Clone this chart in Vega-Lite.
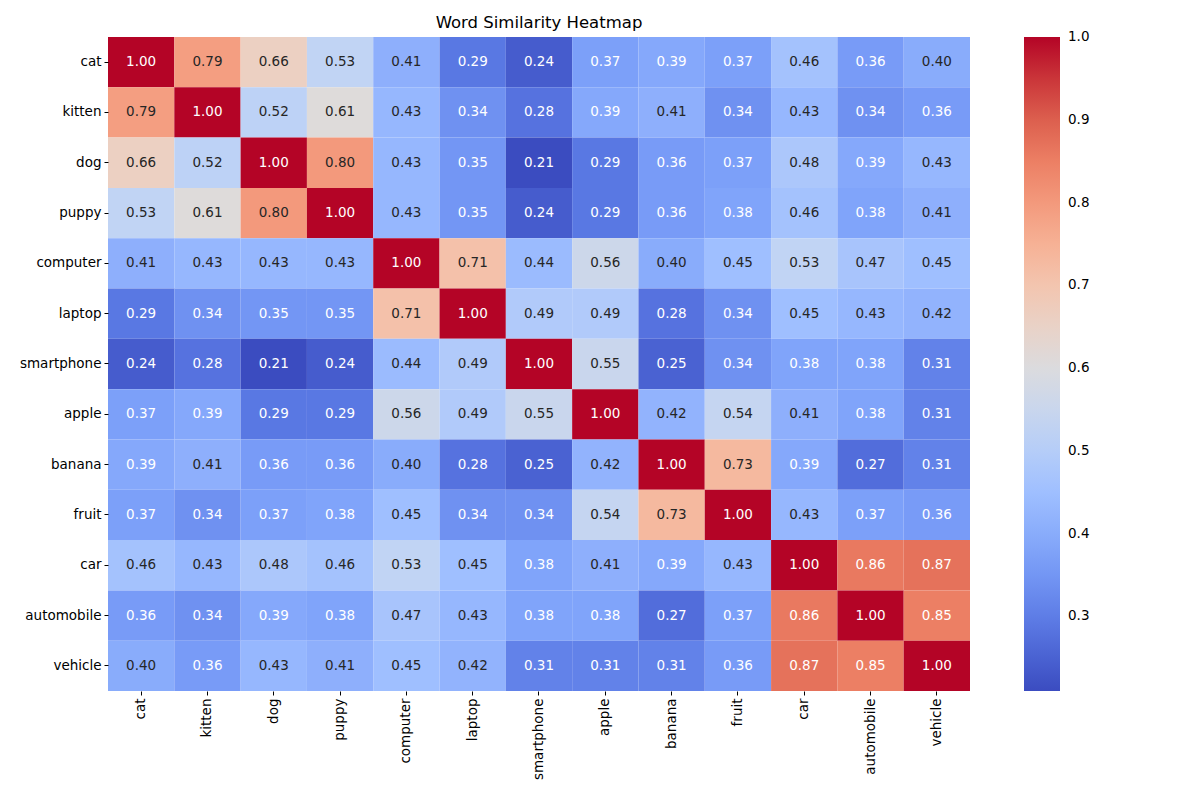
{
"$schema":"https://vega.github.io/schema/vega-lite/v6.json",
"width":862,"height":654,
"autosize":{"type":"none"},
"padding":{"left":108,"top":37,"right":230,"bottom":109},
"background":"white",
"title":{"text":"Word Similarity Heatmap","fontSize":16.5,"fontWeight":"normal","font":"DejaVu Sans","color":"black","offset":6,"anchor":"middle"},
"config":{"view":{"stroke":null},"font":"DejaVu Sans"},
"data":{"values":[
{"r":"cat","c":"cat","v":1.00},{"r":"cat","c":"kitten","v":0.79},{"r":"cat","c":"dog","v":0.66},{"r":"cat","c":"puppy","v":0.53},{"r":"cat","c":"computer","v":0.41},{"r":"cat","c":"laptop","v":0.29},{"r":"cat","c":"smartphone","v":0.24},{"r":"cat","c":"apple","v":0.37},{"r":"cat","c":"banana","v":0.39},{"r":"cat","c":"fruit","v":0.37},{"r":"cat","c":"car","v":0.46},{"r":"cat","c":"automobile","v":0.36},{"r":"cat","c":"vehicle","v":0.40},
{"r":"kitten","c":"cat","v":0.79},{"r":"kitten","c":"kitten","v":1.00},{"r":"kitten","c":"dog","v":0.52},{"r":"kitten","c":"puppy","v":0.61},{"r":"kitten","c":"computer","v":0.43},{"r":"kitten","c":"laptop","v":0.34},{"r":"kitten","c":"smartphone","v":0.28},{"r":"kitten","c":"apple","v":0.39},{"r":"kitten","c":"banana","v":0.41},{"r":"kitten","c":"fruit","v":0.34},{"r":"kitten","c":"car","v":0.43},{"r":"kitten","c":"automobile","v":0.34},{"r":"kitten","c":"vehicle","v":0.36},
{"r":"dog","c":"cat","v":0.66},{"r":"dog","c":"kitten","v":0.52},{"r":"dog","c":"dog","v":1.00},{"r":"dog","c":"puppy","v":0.80},{"r":"dog","c":"computer","v":0.43},{"r":"dog","c":"laptop","v":0.35},{"r":"dog","c":"smartphone","v":0.21},{"r":"dog","c":"apple","v":0.29},{"r":"dog","c":"banana","v":0.36},{"r":"dog","c":"fruit","v":0.37},{"r":"dog","c":"car","v":0.48},{"r":"dog","c":"automobile","v":0.39},{"r":"dog","c":"vehicle","v":0.43},
{"r":"puppy","c":"cat","v":0.53},{"r":"puppy","c":"kitten","v":0.61},{"r":"puppy","c":"dog","v":0.80},{"r":"puppy","c":"puppy","v":1.00},{"r":"puppy","c":"computer","v":0.43},{"r":"puppy","c":"laptop","v":0.35},{"r":"puppy","c":"smartphone","v":0.24},{"r":"puppy","c":"apple","v":0.29},{"r":"puppy","c":"banana","v":0.36},{"r":"puppy","c":"fruit","v":0.38},{"r":"puppy","c":"car","v":0.46},{"r":"puppy","c":"automobile","v":0.38},{"r":"puppy","c":"vehicle","v":0.41},
{"r":"computer","c":"cat","v":0.41},{"r":"computer","c":"kitten","v":0.43},{"r":"computer","c":"dog","v":0.43},{"r":"computer","c":"puppy","v":0.43},{"r":"computer","c":"computer","v":1.00},{"r":"computer","c":"laptop","v":0.71},{"r":"computer","c":"smartphone","v":0.44},{"r":"computer","c":"apple","v":0.56},{"r":"computer","c":"banana","v":0.40},{"r":"computer","c":"fruit","v":0.45},{"r":"computer","c":"car","v":0.53},{"r":"computer","c":"automobile","v":0.47},{"r":"computer","c":"vehicle","v":0.45},
{"r":"laptop","c":"cat","v":0.29},{"r":"laptop","c":"kitten","v":0.34},{"r":"laptop","c":"dog","v":0.35},{"r":"laptop","c":"puppy","v":0.35},{"r":"laptop","c":"computer","v":0.71},{"r":"laptop","c":"laptop","v":1.00},{"r":"laptop","c":"smartphone","v":0.49},{"r":"laptop","c":"apple","v":0.49},{"r":"laptop","c":"banana","v":0.28},{"r":"laptop","c":"fruit","v":0.34},{"r":"laptop","c":"car","v":0.45},{"r":"laptop","c":"automobile","v":0.43},{"r":"laptop","c":"vehicle","v":0.42},
{"r":"smartphone","c":"cat","v":0.24},{"r":"smartphone","c":"kitten","v":0.28},{"r":"smartphone","c":"dog","v":0.21},{"r":"smartphone","c":"puppy","v":0.24},{"r":"smartphone","c":"computer","v":0.44},{"r":"smartphone","c":"laptop","v":0.49},{"r":"smartphone","c":"smartphone","v":1.00},{"r":"smartphone","c":"apple","v":0.55},{"r":"smartphone","c":"banana","v":0.25},{"r":"smartphone","c":"fruit","v":0.34},{"r":"smartphone","c":"car","v":0.38},{"r":"smartphone","c":"automobile","v":0.38},{"r":"smartphone","c":"vehicle","v":0.31},
{"r":"apple","c":"cat","v":0.37},{"r":"apple","c":"kitten","v":0.39},{"r":"apple","c":"dog","v":0.29},{"r":"apple","c":"puppy","v":0.29},{"r":"apple","c":"computer","v":0.56},{"r":"apple","c":"laptop","v":0.49},{"r":"apple","c":"smartphone","v":0.55},{"r":"apple","c":"apple","v":1.00},{"r":"apple","c":"banana","v":0.42},{"r":"apple","c":"fruit","v":0.54},{"r":"apple","c":"car","v":0.41},{"r":"apple","c":"automobile","v":0.38},{"r":"apple","c":"vehicle","v":0.31},
{"r":"banana","c":"cat","v":0.39},{"r":"banana","c":"kitten","v":0.41},{"r":"banana","c":"dog","v":0.36},{"r":"banana","c":"puppy","v":0.36},{"r":"banana","c":"computer","v":0.40},{"r":"banana","c":"laptop","v":0.28},{"r":"banana","c":"smartphone","v":0.25},{"r":"banana","c":"apple","v":0.42},{"r":"banana","c":"banana","v":1.00},{"r":"banana","c":"fruit","v":0.73},{"r":"banana","c":"car","v":0.39},{"r":"banana","c":"automobile","v":0.27},{"r":"banana","c":"vehicle","v":0.31},
{"r":"fruit","c":"cat","v":0.37},{"r":"fruit","c":"kitten","v":0.34},{"r":"fruit","c":"dog","v":0.37},{"r":"fruit","c":"puppy","v":0.38},{"r":"fruit","c":"computer","v":0.45},{"r":"fruit","c":"laptop","v":0.34},{"r":"fruit","c":"smartphone","v":0.34},{"r":"fruit","c":"apple","v":0.54},{"r":"fruit","c":"banana","v":0.73},{"r":"fruit","c":"fruit","v":1.00},{"r":"fruit","c":"car","v":0.43},{"r":"fruit","c":"automobile","v":0.37},{"r":"fruit","c":"vehicle","v":0.36},
{"r":"car","c":"cat","v":0.46},{"r":"car","c":"kitten","v":0.43},{"r":"car","c":"dog","v":0.48},{"r":"car","c":"puppy","v":0.46},{"r":"car","c":"computer","v":0.53},{"r":"car","c":"laptop","v":0.45},{"r":"car","c":"smartphone","v":0.38},{"r":"car","c":"apple","v":0.41},{"r":"car","c":"banana","v":0.39},{"r":"car","c":"fruit","v":0.43},{"r":"car","c":"car","v":1.00},{"r":"car","c":"automobile","v":0.86},{"r":"car","c":"vehicle","v":0.87},
{"r":"automobile","c":"cat","v":0.36},{"r":"automobile","c":"kitten","v":0.34},{"r":"automobile","c":"dog","v":0.39},{"r":"automobile","c":"puppy","v":0.38},{"r":"automobile","c":"computer","v":0.47},{"r":"automobile","c":"laptop","v":0.43},{"r":"automobile","c":"smartphone","v":0.38},{"r":"automobile","c":"apple","v":0.38},{"r":"automobile","c":"banana","v":0.27},{"r":"automobile","c":"fruit","v":0.37},{"r":"automobile","c":"car","v":0.86},{"r":"automobile","c":"automobile","v":1.00},{"r":"automobile","c":"vehicle","v":0.85},
{"r":"vehicle","c":"cat","v":0.40},{"r":"vehicle","c":"kitten","v":0.36},{"r":"vehicle","c":"dog","v":0.43},{"r":"vehicle","c":"puppy","v":0.41},{"r":"vehicle","c":"computer","v":0.45},{"r":"vehicle","c":"laptop","v":0.42},{"r":"vehicle","c":"smartphone","v":0.31},{"r":"vehicle","c":"apple","v":0.31},{"r":"vehicle","c":"banana","v":0.31},{"r":"vehicle","c":"fruit","v":0.36},{"r":"vehicle","c":"car","v":0.87},{"r":"vehicle","c":"automobile","v":0.85},{"r":"vehicle","c":"vehicle","v":1.00}
]},
"encoding":{
"x":{"field":"c","type":"nominal","sort":["cat","kitten","dog","puppy","computer","laptop","smartphone","apple","banana","fruit","car","automobile","vehicle"],"scale":{"paddingInner":0,"paddingOuter":0},
"axis":{"title":null,"labelAngle":-90,"labelAlign":"right","labelBaseline":"middle","labelFontSize":13.5,"labelColor":"black","domain":false,"tickColor":"black","tickSize":4,"labelPadding":3}},
"y":{"field":"r","type":"nominal","sort":["cat","kitten","dog","puppy","computer","laptop","smartphone","apple","banana","fruit","car","automobile","vehicle"],"scale":{"paddingInner":0,"paddingOuter":0},
"axis":{"title":null,"labelFontSize":13.5,"labelColor":"black","domain":false,"tickColor":"black","tickSize":4,"labelPadding":3}}
},
"layer":[
{"mark":{"type":"rect","strokeWidth":0},
"encoding":{"color":{"field":"v","type":"quantitative",
"scale":{"domain":[0.21,0.289,0.368,0.447,0.526,0.605,0.684,0.763,0.842,0.921,1.0],"range":["#3b4cc0","#5977e3","#7b9ff9","#9ebeff","#c0d4f5","#dddcdc","#f2cbb7","#f7ac8e","#ee8468","#d65244","#b40426"],"interpolate":"rgb"},
"legend":{"title":null,"orient":"none","legendX":916,"legendY":0,"direction":"vertical","gradientLength":654,"gradientThickness":36,"gradientStrokeWidth":0,"values":[0.3,0.4,0.5,0.6,0.7,0.8,0.9,1.0],"format":".1f","labelFontSize":13.5,"labelColor":"black","labelOffset":8,"labelOverlap":false,
"encode":{"labels":{"update":{"baseline":{"value":"middle"}}}}}}}},
{"mark":{"type":"text","fontSize":13.5,"baseline":"middle","align":"center"},
"encoding":{"text":{"field":"v","type":"quantitative","format":".2f"},
"color":{"condition":{"test":"datum.v<0.395 || datum.v>=0.83","value":"white"},"value":"#262626"}}}
]
}
